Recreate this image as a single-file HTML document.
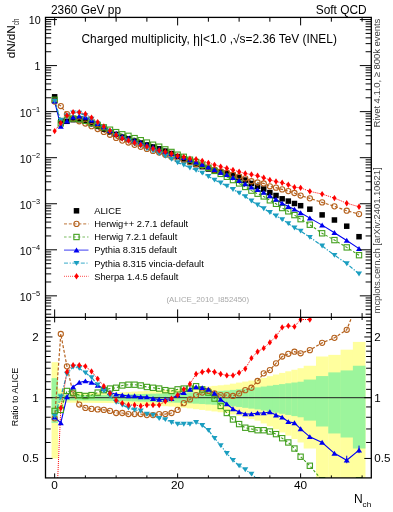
<!DOCTYPE html><html><head><meta charset="utf-8"><style>html,body{margin:0;padding:0;background:#fff;overflow:hidden;width:393px;height:512px;}svg{display:block;will-change:transform;} text{font-family:"Liberation Sans",sans-serif;}</style></head><body>
<svg width="393" height="512" viewBox="0 0 393 512">
<rect width="393" height="512" fill="#fff"/>
<defs><clipPath id="cr"><rect x="45.5" y="317.4" width="325.8" height="160.5"/></clipPath>
<clipPath id="ct"><rect x="45.5" y="17.4" width="325.8" height="300"/></clipPath></defs>
<g clip-path="url(#cr)">
<rect x="51.58" y="362.17" width="6.45" height="96.28" fill="#ffff9e"/>
<rect x="57.72" y="388.56" width="6.45" height="19.36" fill="#ffff9e"/>
<rect x="63.87" y="393.01" width="6.45" height="9.65" fill="#ffff9e"/>
<rect x="70.02" y="392.96" width="6.45" height="9.76" fill="#ffff9e"/>
<rect x="76.17" y="392.91" width="6.45" height="9.87" fill="#ffff9e"/>
<rect x="82.32" y="392.86" width="6.45" height="9.98" fill="#ffff9e"/>
<rect x="88.47" y="392.8" width="6.45" height="10.09" fill="#ffff9e"/>
<rect x="94.62" y="392.75" width="6.45" height="10.2" fill="#ffff9e"/>
<rect x="100.77" y="392.7" width="6.45" height="10.31" fill="#ffff9e"/>
<rect x="106.92" y="392.65" width="6.45" height="10.42" fill="#ffff9e"/>
<rect x="113.07" y="392.6" width="6.45" height="10.53" fill="#ffff9e"/>
<rect x="119.21" y="392.27" width="6.45" height="11.23" fill="#ffff9e"/>
<rect x="125.36" y="391.94" width="6.45" height="11.94" fill="#ffff9e"/>
<rect x="131.51" y="391.61" width="6.45" height="12.64" fill="#ffff9e"/>
<rect x="137.66" y="391.28" width="6.45" height="13.35" fill="#ffff9e"/>
<rect x="143.81" y="390.96" width="6.45" height="14.05" fill="#ffff9e"/>
<rect x="149.96" y="390.64" width="6.45" height="14.76" fill="#ffff9e"/>
<rect x="156.11" y="390.31" width="6.45" height="15.46" fill="#ffff9e"/>
<rect x="162.26" y="389.99" width="6.45" height="16.17" fill="#ffff9e"/>
<rect x="168.41" y="389.67" width="6.45" height="16.88" fill="#ffff9e"/>
<rect x="174.56" y="389.35" width="6.45" height="17.59" fill="#ffff9e"/>
<rect x="180.7" y="388.76" width="6.45" height="18.92" fill="#ffff9e"/>
<rect x="186.85" y="388.16" width="6.45" height="20.25" fill="#ffff9e"/>
<rect x="193" y="387.58" width="6.45" height="21.58" fill="#ffff9e"/>
<rect x="199.15" y="386.99" width="6.45" height="22.92" fill="#ffff9e"/>
<rect x="205.3" y="386.41" width="6.45" height="24.25" fill="#ffff9e"/>
<rect x="211.45" y="385.84" width="6.45" height="25.6" fill="#ffff9e"/>
<rect x="217.6" y="385.27" width="6.45" height="26.94" fill="#ffff9e"/>
<rect x="223.75" y="384.7" width="6.45" height="28.29" fill="#ffff9e"/>
<rect x="229.9" y="383.65" width="6.45" height="30.81" fill="#ffff9e"/>
<rect x="236.05" y="382.61" width="6.45" height="33.35" fill="#ffff9e"/>
<rect x="242.19" y="381.58" width="6.45" height="35.9" fill="#ffff9e"/>
<rect x="248.34" y="380.56" width="6.45" height="38.47" fill="#ffff9e"/>
<rect x="254.49" y="379.56" width="6.45" height="41.05" fill="#ffff9e"/>
<rect x="260.64" y="377.85" width="6.45" height="45.57" fill="#ffff9e"/>
<rect x="266.79" y="376.17" width="6.45" height="50.15" fill="#ffff9e"/>
<rect x="272.94" y="374.52" width="6.45" height="54.8" fill="#ffff9e"/>
<rect x="279.09" y="372.9" width="6.45" height="59.53" fill="#ffff9e"/>
<rect x="285.24" y="371.31" width="6.45" height="64.34" fill="#ffff9e"/>
<rect x="291.39" y="369.75" width="6.45" height="69.25" fill="#ffff9e"/>
<rect x="297.54" y="368.22" width="6.45" height="74.26" fill="#ffff9e"/>
<rect x="303.68" y="365.75" width="12.6" height="82.77" fill="#ffff9e"/>
<rect x="315.98" y="356.51" width="12.6" height="121.5" fill="#ffff9e"/>
<rect x="328.28" y="354.88" width="12.6" height="129.96" fill="#ffff9e"/>
<rect x="340.58" y="349.67" width="12.6" height="153.55" fill="#ffff9e"/>
<rect x="352.88" y="341.91" width="12.6" height="161.31" fill="#ffff9e"/>
<rect x="51.58" y="378.15" width="6.45" height="44.77" fill="#9cf59c"/>
<rect x="57.72" y="393.43" width="6.45" height="8.77" fill="#9cf59c"/>
<rect x="63.87" y="395.11" width="6.45" height="5.26" fill="#9cf59c"/>
<rect x="70.02" y="395.06" width="6.45" height="5.37" fill="#9cf59c"/>
<rect x="76.17" y="395.01" width="6.45" height="5.48" fill="#9cf59c"/>
<rect x="82.32" y="394.95" width="6.45" height="5.59" fill="#9cf59c"/>
<rect x="88.47" y="394.9" width="6.45" height="5.7" fill="#9cf59c"/>
<rect x="94.62" y="394.85" width="6.45" height="5.81" fill="#9cf59c"/>
<rect x="100.77" y="394.8" width="6.45" height="5.92" fill="#9cf59c"/>
<rect x="106.92" y="394.74" width="6.45" height="6.03" fill="#9cf59c"/>
<rect x="113.07" y="394.69" width="6.45" height="6.14" fill="#9cf59c"/>
<rect x="119.21" y="394.52" width="6.45" height="6.49" fill="#9cf59c"/>
<rect x="125.36" y="394.35" width="6.45" height="6.84" fill="#9cf59c"/>
<rect x="131.51" y="394.18" width="6.45" height="7.19" fill="#9cf59c"/>
<rect x="137.66" y="394.01" width="6.45" height="7.54" fill="#9cf59c"/>
<rect x="143.81" y="393.85" width="6.45" height="7.89" fill="#9cf59c"/>
<rect x="149.96" y="393.68" width="6.45" height="8.24" fill="#9cf59c"/>
<rect x="156.11" y="393.51" width="6.45" height="8.6" fill="#9cf59c"/>
<rect x="162.26" y="393.34" width="6.45" height="8.95" fill="#9cf59c"/>
<rect x="168.41" y="393.18" width="6.45" height="9.3" fill="#9cf59c"/>
<rect x="174.56" y="393.01" width="6.45" height="9.65" fill="#9cf59c"/>
<rect x="180.7" y="392.7" width="6.45" height="10.31" fill="#9cf59c"/>
<rect x="186.85" y="392.39" width="6.45" height="10.97" fill="#9cf59c"/>
<rect x="193" y="392.08" width="6.45" height="11.63" fill="#9cf59c"/>
<rect x="199.15" y="391.77" width="6.45" height="12.29" fill="#9cf59c"/>
<rect x="205.3" y="391.47" width="6.45" height="12.95" fill="#9cf59c"/>
<rect x="211.45" y="391.16" width="6.45" height="13.61" fill="#9cf59c"/>
<rect x="217.6" y="390.86" width="6.45" height="14.27" fill="#9cf59c"/>
<rect x="223.75" y="390.55" width="6.45" height="14.93" fill="#9cf59c"/>
<rect x="229.9" y="389.91" width="6.45" height="16.35" fill="#9cf59c"/>
<rect x="236.05" y="389.27" width="6.45" height="17.76" fill="#9cf59c"/>
<rect x="242.19" y="388.64" width="6.45" height="19.18" fill="#9cf59c"/>
<rect x="248.34" y="388.01" width="6.45" height="20.6" fill="#9cf59c"/>
<rect x="254.49" y="387.38" width="6.45" height="22.03" fill="#9cf59c"/>
<rect x="260.64" y="386.55" width="6.45" height="23.94" fill="#9cf59c"/>
<rect x="266.79" y="385.73" width="6.45" height="25.85" fill="#9cf59c"/>
<rect x="272.94" y="384.91" width="6.45" height="27.77" fill="#9cf59c"/>
<rect x="279.09" y="384.11" width="6.45" height="29.7" fill="#9cf59c"/>
<rect x="285.24" y="383.3" width="6.45" height="31.64" fill="#9cf59c"/>
<rect x="291.39" y="382.51" width="6.45" height="33.58" fill="#9cf59c"/>
<rect x="297.54" y="381.73" width="6.45" height="35.54" fill="#9cf59c"/>
<rect x="303.68" y="379.56" width="12.6" height="41.05" fill="#9cf59c"/>
<rect x="315.98" y="376.07" width="12.6" height="50.43" fill="#9cf59c"/>
<rect x="328.28" y="372.38" width="12.6" height="61.08" fill="#9cf59c"/>
<rect x="340.58" y="370.43" width="12.6" height="67.07" fill="#9cf59c"/>
<rect x="352.88" y="365.75" width="12.6" height="82.77" fill="#9cf59c"/>
<line x1="45.5" y1="397.7" x2="371.3" y2="397.7" stroke="#222" stroke-width="1"/>
</g>
<g clip-path="url(#ct)">
<polyline points="54.65,101.51 60.8,106.05 66.95,114.15 73.1,118.72 79.25,121.26 85.39,123.53 91.54,126.16 97.69,129.07 103.84,131.89 109.99,134.82 116.14,137.89 122.29,140.59 128.44,142.53 134.59,144.83 140.74,146.73 146.88,148.97 153.03,150.97 159.18,152.53 165.33,154.83 171.48,156.99 177.63,159.39 183.78,160.14 189.93,162.2 196.08,164.01 202.23,165.53 208.38,167.46 214.52,169.72 220.67,171.41 226.82,172.71 232.97,174.7 239.12,176.42 245.27,178.38 251.42,181.23 257.57,182.49 263.72,183.45 269.87,186.3 276.01,187.66 282.16,189.4 288.31,191.08 294.46,193.01 300.61,195.56 309.83,198.35 322.13,202.38 334.43,206.34 346.73,210.71 359.03,214.07" fill="none" stroke="#b5621e" stroke-width="1.2" stroke-dasharray="3,1.8"/>
<polyline points="54.65,99.82 60.8,123.39 66.95,119.76 73.1,118.53 79.25,119.11 85.39,120.8 91.54,123.01 97.69,125.23 103.84,127.38 109.99,129.71 116.14,132.13 122.29,134.3 128.44,135.83 134.59,138.13 140.74,140.2 146.88,142.56 153.03,144.73 159.18,146.71 165.33,149.38 171.48,151.96 177.63,154.69 183.78,156.81 189.93,159.71 196.08,161.98 202.23,164.79 208.38,167.83 214.52,170.9 220.67,173.89 226.82,176.79 232.97,180.07 239.12,183.42 245.27,186.95 251.42,190.63 257.57,193.72 263.72,196.42 269.87,200.31 276.01,203.81 282.16,208.04 288.31,211.32 294.46,215.1 300.61,219.17 309.83,224.73 322.13,233.3 334.43,240.1 346.73,247.4 359.03,255.2" fill="none" stroke="#43a01f" stroke-width="1.1" stroke-dasharray="2.6,2"/>
<polyline points="54.65,101.26 60.8,126.35 66.95,121.1 73.1,117.26 79.25,116.22 85.39,117.39 91.54,120.12 97.69,123.6 103.84,127.01 109.99,130.63 116.14,133.62 122.29,136.51 128.44,138.4 134.59,140.7 140.74,142.8 146.88,144.8 153.03,147.2 159.18,149.2 165.33,151.5 171.48,153.7 177.63,156.01 183.78,157.73 189.93,159.89 196.08,162.16 202.23,164.43 208.38,167.09 214.52,169.72 220.67,172.4 226.82,174.75 232.97,177.66 239.12,180.65 245.27,183.83 251.42,187.23 257.57,189.79 263.72,192.49 269.87,195.85 276.01,199.47 282.16,203.26 288.31,206.59 294.46,209.25 300.61,212.83 309.83,218.13 322.13,225.12 334.43,232.7 346.73,240.47 359.03,248.66" fill="none" stroke="#0000f0" stroke-width="1.1"/>
<polyline points="54.65,101.01 60.8,120.4 66.95,115.9 73.1,112.69 79.25,112.97 85.39,115.5 91.54,118.98 97.69,123.43 103.84,127.56 109.99,131.4 116.14,135.43 122.29,138.77 128.44,141.13 134.59,143.89 140.74,146.02 146.88,148.73 153.03,150.97 159.18,153.51 165.33,156.07 171.48,159.12 177.63,162.62 183.78,164.92 189.93,167.82 196.08,170.22 202.23,172.99 208.38,176.42 214.52,179.94 220.67,182.89 226.82,186 232.97,189.37 239.12,192.93 245.27,196.52 251.42,200.9 257.57,204.9 263.72,208.6 269.87,212.4 276.01,215.8 282.16,219.5 288.31,223.5 294.46,227.9 300.61,231 309.83,237.2 322.13,245.9 334.43,255.2 346.73,263.6 359.03,273.9" fill="none" stroke="#1b9ec0" stroke-width="1.2" stroke-dasharray="4,1.6,1.2,1.6"/>
<polyline points="54.65,131.09 60.8,122.98 66.95,115.42 73.1,112.27 79.25,112.27 85.39,114.05 91.54,117.6 97.69,122.1 103.84,126.48 109.99,130.82 116.14,135.01 122.29,138.34 128.44,140.47 134.59,142.77 140.74,144.89 146.88,146.67 153.03,148.67 159.18,150.47 165.33,151.92 171.48,153.7 177.63,156.01 183.78,156.99 189.93,158.66 196.08,159.2 202.23,160.85 208.38,162.85 214.52,164.85 220.67,166.6 226.82,168.21 232.97,170.01 239.12,171.7 245.27,173.51 251.42,174.48 257.57,175.81 263.72,177.69 269.87,179.98 276.01,181.54 282.16,182.76 288.31,184.71 294.46,187.28 300.61,187.86 309.83,191.36 322.13,194.1 334.43,198.1 346.73,203.2 359.03,206.8" fill="none" stroke="#ff0000" stroke-width="1.0" stroke-dasharray="1,1"/>
<rect x="51.9" y="94.05" width="5.5" height="5.5" fill="#000"/>
<rect x="58.05" y="117.85" width="5.5" height="5.5" fill="#000"/>
<rect x="64.2" y="118.55" width="5.5" height="5.5" fill="#000"/>
<rect x="70.35" y="116.95" width="5.5" height="5.5" fill="#000"/>
<rect x="76.5" y="116.95" width="5.5" height="5.5" fill="#000"/>
<rect x="82.64" y="118.45" width="5.5" height="5.5" fill="#000"/>
<rect x="88.79" y="120.85" width="5.5" height="5.5" fill="#000"/>
<rect x="94.94" y="123.65" width="5.5" height="5.5" fill="#000"/>
<rect x="101.09" y="126.35" width="5.5" height="5.5" fill="#000"/>
<rect x="107.24" y="129.05" width="5.5" height="5.5" fill="#000"/>
<rect x="113.39" y="131.65" width="5.5" height="5.5" fill="#000"/>
<rect x="119.54" y="134.35" width="5.5" height="5.5" fill="#000"/>
<rect x="125.69" y="136.05" width="5.5" height="5.5" fill="#000"/>
<rect x="131.84" y="138.35" width="5.5" height="5.5" fill="#000"/>
<rect x="137.99" y="140.25" width="5.5" height="5.5" fill="#000"/>
<rect x="144.13" y="142.25" width="5.5" height="5.5" fill="#000"/>
<rect x="150.28" y="144.25" width="5.5" height="5.5" fill="#000"/>
<rect x="156.43" y="146.05" width="5.5" height="5.5" fill="#000"/>
<rect x="162.58" y="148.35" width="5.5" height="5.5" fill="#000"/>
<rect x="168.73" y="150.75" width="5.5" height="5.5" fill="#000"/>
<rect x="174.88" y="153.85" width="5.5" height="5.5" fill="#000"/>
<rect x="181.03" y="156.15" width="5.5" height="5.5" fill="#000"/>
<rect x="187.18" y="159.05" width="5.5" height="5.5" fill="#000"/>
<rect x="193.33" y="161.85" width="5.5" height="5.5" fill="#000"/>
<rect x="199.48" y="163.95" width="5.5" height="5.5" fill="#000"/>
<rect x="205.62" y="166.25" width="5.5" height="5.5" fill="#000"/>
<rect x="211.77" y="167.95" width="5.5" height="5.5" fill="#000"/>
<rect x="217.92" y="169.25" width="5.5" height="5.5" fill="#000"/>
<rect x="224.07" y="170.55" width="5.5" height="5.5" fill="#000"/>
<rect x="230.22" y="172.35" width="5.5" height="5.5" fill="#000"/>
<rect x="236.37" y="174.65" width="5.5" height="5.5" fill="#000"/>
<rect x="242.52" y="177.35" width="5.5" height="5.5" fill="#000"/>
<rect x="248.67" y="180.75" width="5.5" height="5.5" fill="#000"/>
<rect x="254.82" y="183.55" width="5.5" height="5.5" fill="#000"/>
<rect x="260.97" y="186.25" width="5.5" height="5.5" fill="#000"/>
<rect x="267.12" y="189.85" width="5.5" height="5.5" fill="#000"/>
<rect x="273.26" y="192.75" width="5.5" height="5.5" fill="#000"/>
<rect x="279.41" y="196.05" width="5.5" height="5.5" fill="#000"/>
<rect x="285.56" y="198.35" width="5.5" height="5.5" fill="#000"/>
<rect x="291.71" y="200.75" width="5.5" height="5.5" fill="#000"/>
<rect x="297.86" y="202.95" width="5.5" height="5.5" fill="#000"/>
<rect x="307.08" y="206.45" width="5.5" height="5.5" fill="#000"/>
<rect x="319.38" y="212.15" width="5.5" height="5.5" fill="#000"/>
<rect x="331.68" y="217.25" width="5.5" height="5.5" fill="#000"/>
<rect x="343.98" y="223.45" width="5.5" height="5.5" fill="#000"/>
<rect x="356.28" y="233.95" width="5.5" height="5.5" fill="#000"/>
<circle cx="54.65" cy="101.51" r="2.6" fill="none" stroke="#b5621e" stroke-width="1.1"/>
<circle cx="60.8" cy="106.05" r="2.6" fill="none" stroke="#b5621e" stroke-width="1.1"/>
<circle cx="66.95" cy="114.15" r="2.6" fill="none" stroke="#b5621e" stroke-width="1.1"/>
<circle cx="73.1" cy="118.72" r="2.6" fill="none" stroke="#b5621e" stroke-width="1.1"/>
<circle cx="79.25" cy="121.26" r="2.6" fill="none" stroke="#b5621e" stroke-width="1.1"/>
<circle cx="85.39" cy="123.53" r="2.6" fill="none" stroke="#b5621e" stroke-width="1.1"/>
<circle cx="91.54" cy="126.16" r="2.6" fill="none" stroke="#b5621e" stroke-width="1.1"/>
<circle cx="97.69" cy="129.07" r="2.6" fill="none" stroke="#b5621e" stroke-width="1.1"/>
<circle cx="103.84" cy="131.89" r="2.6" fill="none" stroke="#b5621e" stroke-width="1.1"/>
<circle cx="109.99" cy="134.82" r="2.6" fill="none" stroke="#b5621e" stroke-width="1.1"/>
<circle cx="116.14" cy="137.89" r="2.6" fill="none" stroke="#b5621e" stroke-width="1.1"/>
<circle cx="122.29" cy="140.59" r="2.6" fill="none" stroke="#b5621e" stroke-width="1.1"/>
<circle cx="128.44" cy="142.53" r="2.6" fill="none" stroke="#b5621e" stroke-width="1.1"/>
<circle cx="134.59" cy="144.83" r="2.6" fill="none" stroke="#b5621e" stroke-width="1.1"/>
<circle cx="140.74" cy="146.73" r="2.6" fill="none" stroke="#b5621e" stroke-width="1.1"/>
<circle cx="146.88" cy="148.97" r="2.6" fill="none" stroke="#b5621e" stroke-width="1.1"/>
<circle cx="153.03" cy="150.97" r="2.6" fill="none" stroke="#b5621e" stroke-width="1.1"/>
<circle cx="159.18" cy="152.53" r="2.6" fill="none" stroke="#b5621e" stroke-width="1.1"/>
<circle cx="165.33" cy="154.83" r="2.6" fill="none" stroke="#b5621e" stroke-width="1.1"/>
<circle cx="171.48" cy="156.99" r="2.6" fill="none" stroke="#b5621e" stroke-width="1.1"/>
<circle cx="177.63" cy="159.39" r="2.6" fill="none" stroke="#b5621e" stroke-width="1.1"/>
<circle cx="183.78" cy="160.14" r="2.6" fill="none" stroke="#b5621e" stroke-width="1.1"/>
<circle cx="189.93" cy="162.2" r="2.6" fill="none" stroke="#b5621e" stroke-width="1.1"/>
<circle cx="196.08" cy="164.01" r="2.6" fill="none" stroke="#b5621e" stroke-width="1.1"/>
<circle cx="202.23" cy="165.53" r="2.6" fill="none" stroke="#b5621e" stroke-width="1.1"/>
<circle cx="208.38" cy="167.46" r="2.6" fill="none" stroke="#b5621e" stroke-width="1.1"/>
<circle cx="214.52" cy="169.72" r="2.6" fill="none" stroke="#b5621e" stroke-width="1.1"/>
<circle cx="220.67" cy="171.41" r="2.6" fill="none" stroke="#b5621e" stroke-width="1.1"/>
<circle cx="226.82" cy="172.71" r="2.6" fill="none" stroke="#b5621e" stroke-width="1.1"/>
<circle cx="232.97" cy="174.7" r="2.6" fill="none" stroke="#b5621e" stroke-width="1.1"/>
<circle cx="239.12" cy="176.42" r="2.6" fill="none" stroke="#b5621e" stroke-width="1.1"/>
<circle cx="245.27" cy="178.38" r="2.6" fill="none" stroke="#b5621e" stroke-width="1.1"/>
<circle cx="251.42" cy="181.23" r="2.6" fill="none" stroke="#b5621e" stroke-width="1.1"/>
<circle cx="257.57" cy="182.49" r="2.6" fill="none" stroke="#b5621e" stroke-width="1.1"/>
<circle cx="263.72" cy="183.45" r="2.6" fill="none" stroke="#b5621e" stroke-width="1.1"/>
<circle cx="269.87" cy="186.3" r="2.6" fill="none" stroke="#b5621e" stroke-width="1.1"/>
<circle cx="276.01" cy="187.66" r="2.6" fill="none" stroke="#b5621e" stroke-width="1.1"/>
<circle cx="282.16" cy="189.4" r="2.6" fill="none" stroke="#b5621e" stroke-width="1.1"/>
<circle cx="288.31" cy="191.08" r="2.6" fill="none" stroke="#b5621e" stroke-width="1.1"/>
<circle cx="294.46" cy="193.01" r="2.6" fill="none" stroke="#b5621e" stroke-width="1.1"/>
<circle cx="300.61" cy="195.56" r="2.6" fill="none" stroke="#b5621e" stroke-width="1.1"/>
<circle cx="309.83" cy="198.35" r="2.6" fill="none" stroke="#b5621e" stroke-width="1.1"/>
<circle cx="322.13" cy="202.38" r="2.6" fill="none" stroke="#b5621e" stroke-width="1.1"/>
<circle cx="334.43" cy="206.34" r="2.6" fill="none" stroke="#b5621e" stroke-width="1.1"/>
<circle cx="346.73" cy="210.71" r="2.6" fill="none" stroke="#b5621e" stroke-width="1.1"/>
<circle cx="359.03" cy="214.07" r="2.6" fill="none" stroke="#b5621e" stroke-width="1.1"/>
<rect x="52" y="97.17" width="5.3" height="5.3" fill="none" stroke="#43a01f" stroke-width="1.1"/>
<rect x="58.15" y="120.74" width="5.3" height="5.3" fill="none" stroke="#43a01f" stroke-width="1.1"/>
<rect x="64.3" y="117.11" width="5.3" height="5.3" fill="none" stroke="#43a01f" stroke-width="1.1"/>
<rect x="70.45" y="115.88" width="5.3" height="5.3" fill="none" stroke="#43a01f" stroke-width="1.1"/>
<rect x="76.6" y="116.46" width="5.3" height="5.3" fill="none" stroke="#43a01f" stroke-width="1.1"/>
<rect x="82.74" y="118.15" width="5.3" height="5.3" fill="none" stroke="#43a01f" stroke-width="1.1"/>
<rect x="88.89" y="120.36" width="5.3" height="5.3" fill="none" stroke="#43a01f" stroke-width="1.1"/>
<rect x="95.04" y="122.58" width="5.3" height="5.3" fill="none" stroke="#43a01f" stroke-width="1.1"/>
<rect x="101.19" y="124.73" width="5.3" height="5.3" fill="none" stroke="#43a01f" stroke-width="1.1"/>
<rect x="107.34" y="127.06" width="5.3" height="5.3" fill="none" stroke="#43a01f" stroke-width="1.1"/>
<rect x="113.49" y="129.48" width="5.3" height="5.3" fill="none" stroke="#43a01f" stroke-width="1.1"/>
<rect x="119.64" y="131.65" width="5.3" height="5.3" fill="none" stroke="#43a01f" stroke-width="1.1"/>
<rect x="125.79" y="133.18" width="5.3" height="5.3" fill="none" stroke="#43a01f" stroke-width="1.1"/>
<rect x="131.94" y="135.48" width="5.3" height="5.3" fill="none" stroke="#43a01f" stroke-width="1.1"/>
<rect x="138.09" y="137.55" width="5.3" height="5.3" fill="none" stroke="#43a01f" stroke-width="1.1"/>
<rect x="144.23" y="139.91" width="5.3" height="5.3" fill="none" stroke="#43a01f" stroke-width="1.1"/>
<rect x="150.38" y="142.08" width="5.3" height="5.3" fill="none" stroke="#43a01f" stroke-width="1.1"/>
<rect x="156.53" y="144.06" width="5.3" height="5.3" fill="none" stroke="#43a01f" stroke-width="1.1"/>
<rect x="162.68" y="146.73" width="5.3" height="5.3" fill="none" stroke="#43a01f" stroke-width="1.1"/>
<rect x="168.83" y="149.31" width="5.3" height="5.3" fill="none" stroke="#43a01f" stroke-width="1.1"/>
<rect x="174.98" y="152.04" width="5.3" height="5.3" fill="none" stroke="#43a01f" stroke-width="1.1"/>
<rect x="181.13" y="154.16" width="5.3" height="5.3" fill="none" stroke="#43a01f" stroke-width="1.1"/>
<rect x="187.28" y="157.06" width="5.3" height="5.3" fill="none" stroke="#43a01f" stroke-width="1.1"/>
<rect x="193.43" y="159.33" width="5.3" height="5.3" fill="none" stroke="#43a01f" stroke-width="1.1"/>
<rect x="199.58" y="162.14" width="5.3" height="5.3" fill="none" stroke="#43a01f" stroke-width="1.1"/>
<rect x="205.72" y="165.18" width="5.3" height="5.3" fill="none" stroke="#43a01f" stroke-width="1.1"/>
<rect x="211.87" y="168.25" width="5.3" height="5.3" fill="none" stroke="#43a01f" stroke-width="1.1"/>
<rect x="218.02" y="171.24" width="5.3" height="5.3" fill="none" stroke="#43a01f" stroke-width="1.1"/>
<rect x="224.17" y="174.14" width="5.3" height="5.3" fill="none" stroke="#43a01f" stroke-width="1.1"/>
<rect x="230.32" y="177.42" width="5.3" height="5.3" fill="none" stroke="#43a01f" stroke-width="1.1"/>
<rect x="236.47" y="180.77" width="5.3" height="5.3" fill="none" stroke="#43a01f" stroke-width="1.1"/>
<rect x="242.62" y="184.3" width="5.3" height="5.3" fill="none" stroke="#43a01f" stroke-width="1.1"/>
<rect x="248.77" y="187.98" width="5.3" height="5.3" fill="none" stroke="#43a01f" stroke-width="1.1"/>
<rect x="254.92" y="191.07" width="5.3" height="5.3" fill="none" stroke="#43a01f" stroke-width="1.1"/>
<rect x="261.07" y="193.77" width="5.3" height="5.3" fill="none" stroke="#43a01f" stroke-width="1.1"/>
<rect x="267.22" y="197.66" width="5.3" height="5.3" fill="none" stroke="#43a01f" stroke-width="1.1"/>
<rect x="273.36" y="201.16" width="5.3" height="5.3" fill="none" stroke="#43a01f" stroke-width="1.1"/>
<rect x="279.51" y="205.39" width="5.3" height="5.3" fill="none" stroke="#43a01f" stroke-width="1.1"/>
<rect x="285.66" y="208.67" width="5.3" height="5.3" fill="none" stroke="#43a01f" stroke-width="1.1"/>
<rect x="291.81" y="212.45" width="5.3" height="5.3" fill="none" stroke="#43a01f" stroke-width="1.1"/>
<rect x="297.96" y="216.52" width="5.3" height="5.3" fill="none" stroke="#43a01f" stroke-width="1.1"/>
<rect x="307.18" y="222.08" width="5.3" height="5.3" fill="none" stroke="#43a01f" stroke-width="1.1"/>
<rect x="319.48" y="230.65" width="5.3" height="5.3" fill="none" stroke="#43a01f" stroke-width="1.1"/>
<rect x="331.78" y="237.45" width="5.3" height="5.3" fill="none" stroke="#43a01f" stroke-width="1.1"/>
<rect x="344.08" y="244.75" width="5.3" height="5.3" fill="none" stroke="#43a01f" stroke-width="1.1"/>
<rect x="356.38" y="252.55" width="5.3" height="5.3" fill="none" stroke="#43a01f" stroke-width="1.1"/>
<path d="M54.65 98.66l3 4.9h-6z" fill="#0000f0"/>
<path d="M60.8 123.75l3 4.9h-6z" fill="#0000f0"/>
<path d="M66.95 118.5l3 4.9h-6z" fill="#0000f0"/>
<path d="M73.1 114.66l3 4.9h-6z" fill="#0000f0"/>
<path d="M79.25 113.62l3 4.9h-6z" fill="#0000f0"/>
<path d="M85.39 114.79l3 4.9h-6z" fill="#0000f0"/>
<path d="M91.54 117.52l3 4.9h-6z" fill="#0000f0"/>
<path d="M97.69 121l3 4.9h-6z" fill="#0000f0"/>
<path d="M103.84 124.41l3 4.9h-6z" fill="#0000f0"/>
<path d="M109.99 128.03l3 4.9h-6z" fill="#0000f0"/>
<path d="M116.14 131.02l3 4.9h-6z" fill="#0000f0"/>
<path d="M122.29 133.91l3 4.9h-6z" fill="#0000f0"/>
<path d="M128.44 135.8l3 4.9h-6z" fill="#0000f0"/>
<path d="M134.59 138.1l3 4.9h-6z" fill="#0000f0"/>
<path d="M140.74 140.2l3 4.9h-6z" fill="#0000f0"/>
<path d="M146.88 142.2l3 4.9h-6z" fill="#0000f0"/>
<path d="M153.03 144.6l3 4.9h-6z" fill="#0000f0"/>
<path d="M159.18 146.6l3 4.9h-6z" fill="#0000f0"/>
<path d="M165.33 148.9l3 4.9h-6z" fill="#0000f0"/>
<path d="M171.48 151.1l3 4.9h-6z" fill="#0000f0"/>
<path d="M177.63 153.41l3 4.9h-6z" fill="#0000f0"/>
<path d="M183.78 155.13l3 4.9h-6z" fill="#0000f0"/>
<path d="M189.93 157.29l3 4.9h-6z" fill="#0000f0"/>
<path d="M196.08 159.56l3 4.9h-6z" fill="#0000f0"/>
<path d="M202.23 161.83l3 4.9h-6z" fill="#0000f0"/>
<path d="M208.38 164.49l3 4.9h-6z" fill="#0000f0"/>
<path d="M214.52 167.12l3 4.9h-6z" fill="#0000f0"/>
<path d="M220.67 169.8l3 4.9h-6z" fill="#0000f0"/>
<path d="M226.82 172.15l3 4.9h-6z" fill="#0000f0"/>
<path d="M232.97 175.06l3 4.9h-6z" fill="#0000f0"/>
<path d="M239.12 178.05l3 4.9h-6z" fill="#0000f0"/>
<path d="M245.27 181.23l3 4.9h-6z" fill="#0000f0"/>
<path d="M251.42 184.63l3 4.9h-6z" fill="#0000f0"/>
<path d="M257.57 187.19l3 4.9h-6z" fill="#0000f0"/>
<path d="M263.72 189.89l3 4.9h-6z" fill="#0000f0"/>
<path d="M269.87 193.25l3 4.9h-6z" fill="#0000f0"/>
<path d="M276.01 196.87l3 4.9h-6z" fill="#0000f0"/>
<path d="M282.16 200.66l3 4.9h-6z" fill="#0000f0"/>
<path d="M288.31 203.99l3 4.9h-6z" fill="#0000f0"/>
<path d="M294.46 206.65l3 4.9h-6z" fill="#0000f0"/>
<path d="M300.61 210.23l3 4.9h-6z" fill="#0000f0"/>
<path d="M309.83 215.53l3 4.9h-6z" fill="#0000f0"/>
<path d="M322.13 222.52l3 4.9h-6z" fill="#0000f0"/>
<path d="M334.43 230.1l3 4.9h-6z" fill="#0000f0"/>
<path d="M346.73 237.87l3 4.9h-6z" fill="#0000f0"/>
<path d="M359.03 246.06l3 4.9h-6z" fill="#0000f0"/>
<path d="M54.65 103.61l3 -4.9h-6z" fill="#1b9ec0"/>
<path d="M60.8 123l3 -4.9h-6z" fill="#1b9ec0"/>
<path d="M66.95 118.5l3 -4.9h-6z" fill="#1b9ec0"/>
<path d="M73.1 115.29l3 -4.9h-6z" fill="#1b9ec0"/>
<path d="M79.25 115.57l3 -4.9h-6z" fill="#1b9ec0"/>
<path d="M85.39 118.1l3 -4.9h-6z" fill="#1b9ec0"/>
<path d="M91.54 121.58l3 -4.9h-6z" fill="#1b9ec0"/>
<path d="M97.69 126.03l3 -4.9h-6z" fill="#1b9ec0"/>
<path d="M103.84 130.16l3 -4.9h-6z" fill="#1b9ec0"/>
<path d="M109.99 134l3 -4.9h-6z" fill="#1b9ec0"/>
<path d="M116.14 138.03l3 -4.9h-6z" fill="#1b9ec0"/>
<path d="M122.29 141.37l3 -4.9h-6z" fill="#1b9ec0"/>
<path d="M128.44 143.73l3 -4.9h-6z" fill="#1b9ec0"/>
<path d="M134.59 146.49l3 -4.9h-6z" fill="#1b9ec0"/>
<path d="M140.74 148.62l3 -4.9h-6z" fill="#1b9ec0"/>
<path d="M146.88 151.33l3 -4.9h-6z" fill="#1b9ec0"/>
<path d="M153.03 153.57l3 -4.9h-6z" fill="#1b9ec0"/>
<path d="M159.18 156.11l3 -4.9h-6z" fill="#1b9ec0"/>
<path d="M165.33 158.67l3 -4.9h-6z" fill="#1b9ec0"/>
<path d="M171.48 161.72l3 -4.9h-6z" fill="#1b9ec0"/>
<path d="M177.63 165.22l3 -4.9h-6z" fill="#1b9ec0"/>
<path d="M183.78 167.52l3 -4.9h-6z" fill="#1b9ec0"/>
<path d="M189.93 170.42l3 -4.9h-6z" fill="#1b9ec0"/>
<path d="M196.08 172.82l3 -4.9h-6z" fill="#1b9ec0"/>
<path d="M202.23 175.59l3 -4.9h-6z" fill="#1b9ec0"/>
<path d="M208.38 179.02l3 -4.9h-6z" fill="#1b9ec0"/>
<path d="M214.52 182.54l3 -4.9h-6z" fill="#1b9ec0"/>
<path d="M220.67 185.49l3 -4.9h-6z" fill="#1b9ec0"/>
<path d="M226.82 188.6l3 -4.9h-6z" fill="#1b9ec0"/>
<path d="M232.97 191.97l3 -4.9h-6z" fill="#1b9ec0"/>
<path d="M239.12 195.53l3 -4.9h-6z" fill="#1b9ec0"/>
<path d="M245.27 199.12l3 -4.9h-6z" fill="#1b9ec0"/>
<path d="M251.42 203.5l3 -4.9h-6z" fill="#1b9ec0"/>
<path d="M257.57 207.5l3 -4.9h-6z" fill="#1b9ec0"/>
<path d="M263.72 211.2l3 -4.9h-6z" fill="#1b9ec0"/>
<path d="M269.87 215l3 -4.9h-6z" fill="#1b9ec0"/>
<path d="M276.01 218.4l3 -4.9h-6z" fill="#1b9ec0"/>
<path d="M282.16 222.1l3 -4.9h-6z" fill="#1b9ec0"/>
<path d="M288.31 226.1l3 -4.9h-6z" fill="#1b9ec0"/>
<path d="M294.46 230.5l3 -4.9h-6z" fill="#1b9ec0"/>
<path d="M300.61 233.6l3 -4.9h-6z" fill="#1b9ec0"/>
<path d="M309.83 239.8l3 -4.9h-6z" fill="#1b9ec0"/>
<path d="M322.13 248.5l3 -4.9h-6z" fill="#1b9ec0"/>
<path d="M334.43 257.8l3 -4.9h-6z" fill="#1b9ec0"/>
<path d="M346.73 266.2l3 -4.9h-6z" fill="#1b9ec0"/>
<path d="M359.03 276.5l3 -4.9h-6z" fill="#1b9ec0"/>
<path d="M54.65 127.89l2.1 3.2l-2.1 3.2l-2.1 -3.2z" fill="#ff0000"/>
<path d="M60.8 119.78l2.1 3.2l-2.1 3.2l-2.1 -3.2z" fill="#ff0000"/>
<path d="M66.95 112.22l2.1 3.2l-2.1 3.2l-2.1 -3.2z" fill="#ff0000"/>
<path d="M73.1 109.07l2.1 3.2l-2.1 3.2l-2.1 -3.2z" fill="#ff0000"/>
<path d="M79.25 109.07l2.1 3.2l-2.1 3.2l-2.1 -3.2z" fill="#ff0000"/>
<path d="M85.39 110.85l2.1 3.2l-2.1 3.2l-2.1 -3.2z" fill="#ff0000"/>
<path d="M91.54 114.4l2.1 3.2l-2.1 3.2l-2.1 -3.2z" fill="#ff0000"/>
<path d="M97.69 118.9l2.1 3.2l-2.1 3.2l-2.1 -3.2z" fill="#ff0000"/>
<path d="M103.84 123.28l2.1 3.2l-2.1 3.2l-2.1 -3.2z" fill="#ff0000"/>
<path d="M109.99 127.62l2.1 3.2l-2.1 3.2l-2.1 -3.2z" fill="#ff0000"/>
<path d="M116.14 131.81l2.1 3.2l-2.1 3.2l-2.1 -3.2z" fill="#ff0000"/>
<path d="M122.29 135.14l2.1 3.2l-2.1 3.2l-2.1 -3.2z" fill="#ff0000"/>
<path d="M128.44 137.27l2.1 3.2l-2.1 3.2l-2.1 -3.2z" fill="#ff0000"/>
<path d="M134.59 139.57l2.1 3.2l-2.1 3.2l-2.1 -3.2z" fill="#ff0000"/>
<path d="M140.74 141.69l2.1 3.2l-2.1 3.2l-2.1 -3.2z" fill="#ff0000"/>
<path d="M146.88 143.47l2.1 3.2l-2.1 3.2l-2.1 -3.2z" fill="#ff0000"/>
<path d="M153.03 145.47l2.1 3.2l-2.1 3.2l-2.1 -3.2z" fill="#ff0000"/>
<path d="M159.18 147.27l2.1 3.2l-2.1 3.2l-2.1 -3.2z" fill="#ff0000"/>
<path d="M165.33 148.72l2.1 3.2l-2.1 3.2l-2.1 -3.2z" fill="#ff0000"/>
<path d="M171.48 150.5l2.1 3.2l-2.1 3.2l-2.1 -3.2z" fill="#ff0000"/>
<path d="M177.63 152.81l2.1 3.2l-2.1 3.2l-2.1 -3.2z" fill="#ff0000"/>
<path d="M183.78 153.79l2.1 3.2l-2.1 3.2l-2.1 -3.2z" fill="#ff0000"/>
<path d="M189.93 155.46l2.1 3.2l-2.1 3.2l-2.1 -3.2z" fill="#ff0000"/>
<path d="M196.08 156l2.1 3.2l-2.1 3.2l-2.1 -3.2z" fill="#ff0000"/>
<path d="M202.23 157.65l2.1 3.2l-2.1 3.2l-2.1 -3.2z" fill="#ff0000"/>
<path d="M208.38 159.65l2.1 3.2l-2.1 3.2l-2.1 -3.2z" fill="#ff0000"/>
<path d="M214.52 161.65l2.1 3.2l-2.1 3.2l-2.1 -3.2z" fill="#ff0000"/>
<path d="M220.67 163.4l2.1 3.2l-2.1 3.2l-2.1 -3.2z" fill="#ff0000"/>
<path d="M226.82 165.01l2.1 3.2l-2.1 3.2l-2.1 -3.2z" fill="#ff0000"/>
<path d="M232.97 166.81l2.1 3.2l-2.1 3.2l-2.1 -3.2z" fill="#ff0000"/>
<path d="M239.12 168.5l2.1 3.2l-2.1 3.2l-2.1 -3.2z" fill="#ff0000"/>
<path d="M245.27 170.31l2.1 3.2l-2.1 3.2l-2.1 -3.2z" fill="#ff0000"/>
<path d="M251.42 171.28l2.1 3.2l-2.1 3.2l-2.1 -3.2z" fill="#ff0000"/>
<path d="M257.57 172.61l2.1 3.2l-2.1 3.2l-2.1 -3.2z" fill="#ff0000"/>
<path d="M263.72 174.49l2.1 3.2l-2.1 3.2l-2.1 -3.2z" fill="#ff0000"/>
<path d="M269.87 176.78l2.1 3.2l-2.1 3.2l-2.1 -3.2z" fill="#ff0000"/>
<path d="M276.01 178.34l2.1 3.2l-2.1 3.2l-2.1 -3.2z" fill="#ff0000"/>
<path d="M282.16 179.56l2.1 3.2l-2.1 3.2l-2.1 -3.2z" fill="#ff0000"/>
<path d="M288.31 181.51l2.1 3.2l-2.1 3.2l-2.1 -3.2z" fill="#ff0000"/>
<path d="M294.46 184.08l2.1 3.2l-2.1 3.2l-2.1 -3.2z" fill="#ff0000"/>
<path d="M300.61 184.66l2.1 3.2l-2.1 3.2l-2.1 -3.2z" fill="#ff0000"/>
<path d="M309.83 188.16l2.1 3.2l-2.1 3.2l-2.1 -3.2z" fill="#ff0000"/>
<path d="M322.13 190.9l2.1 3.2l-2.1 3.2l-2.1 -3.2z" fill="#ff0000"/>
<path d="M334.43 194.9l2.1 3.2l-2.1 3.2l-2.1 -3.2z" fill="#ff0000"/>
<path d="M346.73 200l2.1 3.2l-2.1 3.2l-2.1 -3.2z" fill="#ff0000"/>
<path d="M359.03 203.6l2.1 3.2l-2.1 3.2l-2.1 -3.2z" fill="#ff0000"/>
</g>
<g clip-path="url(#cr)">
<polyline points="54.65,418.36 60.8,333.94 66.95,366.36 73.1,393.43 79.25,404.54 85.39,407.92 91.54,408.91 97.69,409.41 103.84,409.91 109.99,410.92 116.14,412.98 122.29,412.98 128.44,414.03 134.59,414.03 140.74,414.03 146.88,415.1 153.03,415.1 159.18,414.03 165.33,414.03 171.48,412.98 177.63,409.91 183.78,403.13 189.93,399.47 196.08,395.11 202.23,392.6 208.38,390.96 214.52,393.43 220.67,395.11 226.82,395.11 232.97,395.97 239.12,393.43 245.27,390.15 251.42,387.77 257.57,381 263.72,373.37 269.87,370.11 276.01,363.35 282.16,356.51 288.31,353.82 294.46,351.72 300.61,353.29 309.83,350.17 322.13,342.85 334.43,337.84 346.73,329.81 359.03,298.55" fill="none" stroke="#b5621e" stroke-width="1.2" stroke-dasharray="3,1.8"/>
<polyline points="54.65,410.92 60.8,409.91 66.95,390.96 73.1,392.6 79.25,395.11 85.39,395.97 91.54,395.11 97.69,392.6 103.84,390.15 109.99,388.56 116.14,387.77 122.29,385.46 128.44,384.7 134.59,384.7 140.74,385.46 146.88,386.99 153.03,387.77 159.18,388.56 165.33,390.15 171.48,390.96 177.63,389.35 183.78,388.56 189.93,388.56 196.08,386.22 202.23,389.35 208.38,392.6 214.52,398.59 220.67,405.97 226.82,412.98 232.97,419.48 239.12,424.09 245.27,427.72 251.42,428.96 257.57,430.22 263.72,430.22 269.87,431.5 276.01,434.12 282.16,438.2 288.31,442.47 294.46,448.52 300.61,456.72 309.83,465.76 322.13,480.23 334.43,485.79 346.73,490.61 359.03,480.23" fill="none" stroke="#43a01f" stroke-width="1.1" stroke-dasharray="2.6,2"/>
<polyline points="54.65,417.26 60.8,422.92 66.95,396.83 73.1,386.99 79.25,382.46 85.39,381 91.54,382.46 97.69,385.46 103.84,388.56 109.99,392.6 116.14,394.27 122.29,395.11 128.44,395.97 134.59,395.97 140.74,396.83 146.88,396.83 153.03,398.59 159.18,399.47 165.33,399.47 171.48,398.59 177.63,395.11 183.78,392.6 189.93,389.35 196.08,386.99 202.23,387.77 208.38,389.35 214.52,393.43 220.67,399.47 226.82,404.06 232.97,408.91 239.12,411.95 245.27,414.03 251.42,414.03 257.57,412.98 263.72,412.98 269.87,411.95 276.01,415.1 282.16,417.26 288.31,421.76 294.46,422.92 300.61,428.96 309.83,436.82 322.13,442.47 334.43,453.35 346.73,460.22 359.03,450.1" fill="none" stroke="#0000f0" stroke-width="1.1"/>
<polyline points="54.65,416.17 60.8,396.83 66.95,374.04 73.1,366.97 79.25,368.22 85.39,372.71 91.54,377.45 97.69,384.7 103.84,390.96 109.99,395.97 116.14,402.2 122.29,405.01 128.44,407.92 134.59,409.91 140.74,410.92 146.88,414.03 153.03,415.1 159.18,418.36 165.33,419.48 171.48,422.33 177.63,424.09 183.78,424.09 189.93,424.09 196.08,422.33 202.23,425.29 208.38,430.22 214.52,438.2 220.67,445.44 226.82,453.35 232.97,460.22 239.12,465.76 245.27,469.66 251.42,473.95 257.57,479.21 263.72,483.6 269.87,484.47 276.01,486.66 282.16,488.42 288.31,495.87 294.46,504.63 300.61,508.57 309.83,520.41 322.13,533.55 334.43,551.96 346.73,561.6 359.03,560.72" fill="none" stroke="#1b9ec0" stroke-width="1.2" stroke-dasharray="4,1.6,1.2,1.6"/>
<polyline points="54.65,547.99 60.8,408.11 66.95,371.92 73.1,365.14 79.25,365.14 85.39,366.36 91.54,371.4 97.69,378.85 103.84,386.22 109.99,393.43 116.14,400.37 122.29,403.13 128.44,405.01 134.59,405.01 140.74,405.97 146.88,405.01 153.03,405.01 159.18,405.01 165.33,401.28 171.48,398.59 177.63,395.11 183.78,389.35 189.93,383.94 196.08,374.04 202.23,372.05 208.38,370.76 214.52,372.05 220.67,374.04 226.82,375.39 232.97,375.39 239.12,372.71 245.27,368.84 251.42,358.17 257.57,351.72 263.72,348.16 269.87,342.38 276.01,336.52 282.16,327.42 288.31,325.86 294.46,326.63 300.61,319.53 309.83,319.53 322.13,306.55 334.43,301.73 346.73,296.91 359.03,266.68" fill="none" stroke="#ff0000" stroke-width="1.0" stroke-dasharray="1,1"/>
<line x1="346.73" y1="455.72" x2="346.73" y2="463.22" stroke="#0000f0" stroke-width="1"/>
<line x1="359.03" y1="445.6" x2="359.03" y2="453.1" stroke="#0000f0" stroke-width="1"/>
<circle cx="54.65" cy="418.36" r="2.6" fill="none" stroke="#b5621e" stroke-width="1.1"/>
<circle cx="60.8" cy="333.94" r="2.6" fill="none" stroke="#b5621e" stroke-width="1.1"/>
<circle cx="66.95" cy="366.36" r="2.6" fill="none" stroke="#b5621e" stroke-width="1.1"/>
<circle cx="73.1" cy="393.43" r="2.6" fill="none" stroke="#b5621e" stroke-width="1.1"/>
<circle cx="79.25" cy="404.54" r="2.6" fill="none" stroke="#b5621e" stroke-width="1.1"/>
<circle cx="85.39" cy="407.92" r="2.6" fill="none" stroke="#b5621e" stroke-width="1.1"/>
<circle cx="91.54" cy="408.91" r="2.6" fill="none" stroke="#b5621e" stroke-width="1.1"/>
<circle cx="97.69" cy="409.41" r="2.6" fill="none" stroke="#b5621e" stroke-width="1.1"/>
<circle cx="103.84" cy="409.91" r="2.6" fill="none" stroke="#b5621e" stroke-width="1.1"/>
<circle cx="109.99" cy="410.92" r="2.6" fill="none" stroke="#b5621e" stroke-width="1.1"/>
<circle cx="116.14" cy="412.98" r="2.6" fill="none" stroke="#b5621e" stroke-width="1.1"/>
<circle cx="122.29" cy="412.98" r="2.6" fill="none" stroke="#b5621e" stroke-width="1.1"/>
<circle cx="128.44" cy="414.03" r="2.6" fill="none" stroke="#b5621e" stroke-width="1.1"/>
<circle cx="134.59" cy="414.03" r="2.6" fill="none" stroke="#b5621e" stroke-width="1.1"/>
<circle cx="140.74" cy="414.03" r="2.6" fill="none" stroke="#b5621e" stroke-width="1.1"/>
<circle cx="146.88" cy="415.1" r="2.6" fill="none" stroke="#b5621e" stroke-width="1.1"/>
<circle cx="153.03" cy="415.1" r="2.6" fill="none" stroke="#b5621e" stroke-width="1.1"/>
<circle cx="159.18" cy="414.03" r="2.6" fill="none" stroke="#b5621e" stroke-width="1.1"/>
<circle cx="165.33" cy="414.03" r="2.6" fill="none" stroke="#b5621e" stroke-width="1.1"/>
<circle cx="171.48" cy="412.98" r="2.6" fill="none" stroke="#b5621e" stroke-width="1.1"/>
<circle cx="177.63" cy="409.91" r="2.6" fill="none" stroke="#b5621e" stroke-width="1.1"/>
<circle cx="183.78" cy="403.13" r="2.6" fill="none" stroke="#b5621e" stroke-width="1.1"/>
<circle cx="189.93" cy="399.47" r="2.6" fill="none" stroke="#b5621e" stroke-width="1.1"/>
<circle cx="196.08" cy="395.11" r="2.6" fill="none" stroke="#b5621e" stroke-width="1.1"/>
<circle cx="202.23" cy="392.6" r="2.6" fill="none" stroke="#b5621e" stroke-width="1.1"/>
<circle cx="208.38" cy="390.96" r="2.6" fill="none" stroke="#b5621e" stroke-width="1.1"/>
<circle cx="214.52" cy="393.43" r="2.6" fill="none" stroke="#b5621e" stroke-width="1.1"/>
<circle cx="220.67" cy="395.11" r="2.6" fill="none" stroke="#b5621e" stroke-width="1.1"/>
<circle cx="226.82" cy="395.11" r="2.6" fill="none" stroke="#b5621e" stroke-width="1.1"/>
<circle cx="232.97" cy="395.97" r="2.6" fill="none" stroke="#b5621e" stroke-width="1.1"/>
<circle cx="239.12" cy="393.43" r="2.6" fill="none" stroke="#b5621e" stroke-width="1.1"/>
<circle cx="245.27" cy="390.15" r="2.6" fill="none" stroke="#b5621e" stroke-width="1.1"/>
<circle cx="251.42" cy="387.77" r="2.6" fill="none" stroke="#b5621e" stroke-width="1.1"/>
<circle cx="257.57" cy="381" r="2.6" fill="none" stroke="#b5621e" stroke-width="1.1"/>
<circle cx="263.72" cy="373.37" r="2.6" fill="none" stroke="#b5621e" stroke-width="1.1"/>
<circle cx="269.87" cy="370.11" r="2.6" fill="none" stroke="#b5621e" stroke-width="1.1"/>
<circle cx="276.01" cy="363.35" r="2.6" fill="none" stroke="#b5621e" stroke-width="1.1"/>
<circle cx="282.16" cy="356.51" r="2.6" fill="none" stroke="#b5621e" stroke-width="1.1"/>
<circle cx="288.31" cy="353.82" r="2.6" fill="none" stroke="#b5621e" stroke-width="1.1"/>
<circle cx="294.46" cy="351.72" r="2.6" fill="none" stroke="#b5621e" stroke-width="1.1"/>
<circle cx="300.61" cy="353.29" r="2.6" fill="none" stroke="#b5621e" stroke-width="1.1"/>
<circle cx="309.83" cy="350.17" r="2.6" fill="none" stroke="#b5621e" stroke-width="1.1"/>
<circle cx="322.13" cy="342.85" r="2.6" fill="none" stroke="#b5621e" stroke-width="1.1"/>
<circle cx="334.43" cy="337.84" r="2.6" fill="none" stroke="#b5621e" stroke-width="1.1"/>
<circle cx="346.73" cy="329.81" r="2.6" fill="none" stroke="#b5621e" stroke-width="1.1"/>
<circle cx="359.03" cy="298.55" r="2.6" fill="none" stroke="#b5621e" stroke-width="1.1"/>
<rect x="52" y="408.27" width="5.3" height="5.3" fill="none" stroke="#43a01f" stroke-width="1.1"/>
<rect x="58.15" y="407.26" width="5.3" height="5.3" fill="none" stroke="#43a01f" stroke-width="1.1"/>
<rect x="64.3" y="388.31" width="5.3" height="5.3" fill="none" stroke="#43a01f" stroke-width="1.1"/>
<rect x="70.45" y="389.95" width="5.3" height="5.3" fill="none" stroke="#43a01f" stroke-width="1.1"/>
<rect x="76.6" y="392.46" width="5.3" height="5.3" fill="none" stroke="#43a01f" stroke-width="1.1"/>
<rect x="82.74" y="393.32" width="5.3" height="5.3" fill="none" stroke="#43a01f" stroke-width="1.1"/>
<rect x="88.89" y="392.46" width="5.3" height="5.3" fill="none" stroke="#43a01f" stroke-width="1.1"/>
<rect x="95.04" y="389.95" width="5.3" height="5.3" fill="none" stroke="#43a01f" stroke-width="1.1"/>
<rect x="101.19" y="387.5" width="5.3" height="5.3" fill="none" stroke="#43a01f" stroke-width="1.1"/>
<rect x="107.34" y="385.91" width="5.3" height="5.3" fill="none" stroke="#43a01f" stroke-width="1.1"/>
<rect x="113.49" y="385.12" width="5.3" height="5.3" fill="none" stroke="#43a01f" stroke-width="1.1"/>
<rect x="119.64" y="382.81" width="5.3" height="5.3" fill="none" stroke="#43a01f" stroke-width="1.1"/>
<rect x="125.79" y="382.05" width="5.3" height="5.3" fill="none" stroke="#43a01f" stroke-width="1.1"/>
<rect x="131.94" y="382.05" width="5.3" height="5.3" fill="none" stroke="#43a01f" stroke-width="1.1"/>
<rect x="138.09" y="382.81" width="5.3" height="5.3" fill="none" stroke="#43a01f" stroke-width="1.1"/>
<rect x="144.23" y="384.34" width="5.3" height="5.3" fill="none" stroke="#43a01f" stroke-width="1.1"/>
<rect x="150.38" y="385.12" width="5.3" height="5.3" fill="none" stroke="#43a01f" stroke-width="1.1"/>
<rect x="156.53" y="385.91" width="5.3" height="5.3" fill="none" stroke="#43a01f" stroke-width="1.1"/>
<rect x="162.68" y="387.5" width="5.3" height="5.3" fill="none" stroke="#43a01f" stroke-width="1.1"/>
<rect x="168.83" y="388.31" width="5.3" height="5.3" fill="none" stroke="#43a01f" stroke-width="1.1"/>
<rect x="174.98" y="386.7" width="5.3" height="5.3" fill="none" stroke="#43a01f" stroke-width="1.1"/>
<rect x="181.13" y="385.91" width="5.3" height="5.3" fill="none" stroke="#43a01f" stroke-width="1.1"/>
<rect x="187.28" y="385.91" width="5.3" height="5.3" fill="none" stroke="#43a01f" stroke-width="1.1"/>
<rect x="193.43" y="383.57" width="5.3" height="5.3" fill="none" stroke="#43a01f" stroke-width="1.1"/>
<rect x="199.58" y="386.7" width="5.3" height="5.3" fill="none" stroke="#43a01f" stroke-width="1.1"/>
<rect x="205.72" y="389.95" width="5.3" height="5.3" fill="none" stroke="#43a01f" stroke-width="1.1"/>
<rect x="211.87" y="395.94" width="5.3" height="5.3" fill="none" stroke="#43a01f" stroke-width="1.1"/>
<rect x="218.02" y="403.32" width="5.3" height="5.3" fill="none" stroke="#43a01f" stroke-width="1.1"/>
<rect x="224.17" y="410.33" width="5.3" height="5.3" fill="none" stroke="#43a01f" stroke-width="1.1"/>
<rect x="230.32" y="416.83" width="5.3" height="5.3" fill="none" stroke="#43a01f" stroke-width="1.1"/>
<rect x="236.47" y="421.44" width="5.3" height="5.3" fill="none" stroke="#43a01f" stroke-width="1.1"/>
<rect x="242.62" y="425.07" width="5.3" height="5.3" fill="none" stroke="#43a01f" stroke-width="1.1"/>
<rect x="248.77" y="426.31" width="5.3" height="5.3" fill="none" stroke="#43a01f" stroke-width="1.1"/>
<rect x="254.92" y="427.57" width="5.3" height="5.3" fill="none" stroke="#43a01f" stroke-width="1.1"/>
<rect x="261.07" y="427.57" width="5.3" height="5.3" fill="none" stroke="#43a01f" stroke-width="1.1"/>
<rect x="267.22" y="428.85" width="5.3" height="5.3" fill="none" stroke="#43a01f" stroke-width="1.1"/>
<rect x="273.36" y="431.47" width="5.3" height="5.3" fill="none" stroke="#43a01f" stroke-width="1.1"/>
<rect x="279.51" y="435.55" width="5.3" height="5.3" fill="none" stroke="#43a01f" stroke-width="1.1"/>
<rect x="285.66" y="439.82" width="5.3" height="5.3" fill="none" stroke="#43a01f" stroke-width="1.1"/>
<rect x="291.81" y="445.87" width="5.3" height="5.3" fill="none" stroke="#43a01f" stroke-width="1.1"/>
<rect x="297.96" y="454.07" width="5.3" height="5.3" fill="none" stroke="#43a01f" stroke-width="1.1"/>
<rect x="307.18" y="463.11" width="5.3" height="5.3" fill="none" stroke="#43a01f" stroke-width="1.1"/>
<rect x="319.48" y="477.58" width="5.3" height="5.3" fill="none" stroke="#43a01f" stroke-width="1.1"/>
<rect x="331.78" y="483.14" width="5.3" height="5.3" fill="none" stroke="#43a01f" stroke-width="1.1"/>
<rect x="344.08" y="487.96" width="5.3" height="5.3" fill="none" stroke="#43a01f" stroke-width="1.1"/>
<rect x="356.38" y="477.58" width="5.3" height="5.3" fill="none" stroke="#43a01f" stroke-width="1.1"/>
<path d="M54.65 414.66l3 4.9h-6z" fill="#0000f0"/>
<path d="M60.8 420.32l3 4.9h-6z" fill="#0000f0"/>
<path d="M66.95 394.23l3 4.9h-6z" fill="#0000f0"/>
<path d="M73.1 384.39l3 4.9h-6z" fill="#0000f0"/>
<path d="M79.25 379.86l3 4.9h-6z" fill="#0000f0"/>
<path d="M85.39 378.4l3 4.9h-6z" fill="#0000f0"/>
<path d="M91.54 379.86l3 4.9h-6z" fill="#0000f0"/>
<path d="M97.69 382.86l3 4.9h-6z" fill="#0000f0"/>
<path d="M103.84 385.96l3 4.9h-6z" fill="#0000f0"/>
<path d="M109.99 390l3 4.9h-6z" fill="#0000f0"/>
<path d="M116.14 391.67l3 4.9h-6z" fill="#0000f0"/>
<path d="M122.29 392.51l3 4.9h-6z" fill="#0000f0"/>
<path d="M128.44 393.37l3 4.9h-6z" fill="#0000f0"/>
<path d="M134.59 393.37l3 4.9h-6z" fill="#0000f0"/>
<path d="M140.74 394.23l3 4.9h-6z" fill="#0000f0"/>
<path d="M146.88 394.23l3 4.9h-6z" fill="#0000f0"/>
<path d="M153.03 395.99l3 4.9h-6z" fill="#0000f0"/>
<path d="M159.18 396.87l3 4.9h-6z" fill="#0000f0"/>
<path d="M165.33 396.87l3 4.9h-6z" fill="#0000f0"/>
<path d="M171.48 395.99l3 4.9h-6z" fill="#0000f0"/>
<path d="M177.63 392.51l3 4.9h-6z" fill="#0000f0"/>
<path d="M183.78 390l3 4.9h-6z" fill="#0000f0"/>
<path d="M189.93 386.75l3 4.9h-6z" fill="#0000f0"/>
<path d="M196.08 384.39l3 4.9h-6z" fill="#0000f0"/>
<path d="M202.23 385.17l3 4.9h-6z" fill="#0000f0"/>
<path d="M208.38 386.75l3 4.9h-6z" fill="#0000f0"/>
<path d="M214.52 390.83l3 4.9h-6z" fill="#0000f0"/>
<path d="M220.67 396.87l3 4.9h-6z" fill="#0000f0"/>
<path d="M226.82 401.46l3 4.9h-6z" fill="#0000f0"/>
<path d="M232.97 406.31l3 4.9h-6z" fill="#0000f0"/>
<path d="M239.12 409.35l3 4.9h-6z" fill="#0000f0"/>
<path d="M245.27 411.43l3 4.9h-6z" fill="#0000f0"/>
<path d="M251.42 411.43l3 4.9h-6z" fill="#0000f0"/>
<path d="M257.57 410.38l3 4.9h-6z" fill="#0000f0"/>
<path d="M263.72 410.38l3 4.9h-6z" fill="#0000f0"/>
<path d="M269.87 409.35l3 4.9h-6z" fill="#0000f0"/>
<path d="M276.01 412.5l3 4.9h-6z" fill="#0000f0"/>
<path d="M282.16 414.66l3 4.9h-6z" fill="#0000f0"/>
<path d="M288.31 419.16l3 4.9h-6z" fill="#0000f0"/>
<path d="M294.46 420.32l3 4.9h-6z" fill="#0000f0"/>
<path d="M300.61 426.36l3 4.9h-6z" fill="#0000f0"/>
<path d="M309.83 434.22l3 4.9h-6z" fill="#0000f0"/>
<path d="M322.13 439.87l3 4.9h-6z" fill="#0000f0"/>
<path d="M334.43 450.75l3 4.9h-6z" fill="#0000f0"/>
<path d="M346.73 457.62l3 4.9h-6z" fill="#0000f0"/>
<path d="M359.03 447.5l3 4.9h-6z" fill="#0000f0"/>
<path d="M54.65 418.77l3 -4.9h-6z" fill="#1b9ec0"/>
<path d="M60.8 399.43l3 -4.9h-6z" fill="#1b9ec0"/>
<path d="M66.95 376.64l3 -4.9h-6z" fill="#1b9ec0"/>
<path d="M73.1 369.57l3 -4.9h-6z" fill="#1b9ec0"/>
<path d="M79.25 370.82l3 -4.9h-6z" fill="#1b9ec0"/>
<path d="M85.39 375.31l3 -4.9h-6z" fill="#1b9ec0"/>
<path d="M91.54 380.05l3 -4.9h-6z" fill="#1b9ec0"/>
<path d="M97.69 387.3l3 -4.9h-6z" fill="#1b9ec0"/>
<path d="M103.84 393.56l3 -4.9h-6z" fill="#1b9ec0"/>
<path d="M109.99 398.57l3 -4.9h-6z" fill="#1b9ec0"/>
<path d="M116.14 404.8l3 -4.9h-6z" fill="#1b9ec0"/>
<path d="M122.29 407.61l3 -4.9h-6z" fill="#1b9ec0"/>
<path d="M128.44 410.52l3 -4.9h-6z" fill="#1b9ec0"/>
<path d="M134.59 412.51l3 -4.9h-6z" fill="#1b9ec0"/>
<path d="M140.74 413.52l3 -4.9h-6z" fill="#1b9ec0"/>
<path d="M146.88 416.63l3 -4.9h-6z" fill="#1b9ec0"/>
<path d="M153.03 417.7l3 -4.9h-6z" fill="#1b9ec0"/>
<path d="M159.18 420.96l3 -4.9h-6z" fill="#1b9ec0"/>
<path d="M165.33 422.08l3 -4.9h-6z" fill="#1b9ec0"/>
<path d="M171.48 424.93l3 -4.9h-6z" fill="#1b9ec0"/>
<path d="M177.63 426.69l3 -4.9h-6z" fill="#1b9ec0"/>
<path d="M183.78 426.69l3 -4.9h-6z" fill="#1b9ec0"/>
<path d="M189.93 426.69l3 -4.9h-6z" fill="#1b9ec0"/>
<path d="M196.08 424.93l3 -4.9h-6z" fill="#1b9ec0"/>
<path d="M202.23 427.89l3 -4.9h-6z" fill="#1b9ec0"/>
<path d="M208.38 432.82l3 -4.9h-6z" fill="#1b9ec0"/>
<path d="M214.52 440.8l3 -4.9h-6z" fill="#1b9ec0"/>
<path d="M220.67 448.04l3 -4.9h-6z" fill="#1b9ec0"/>
<path d="M226.82 455.95l3 -4.9h-6z" fill="#1b9ec0"/>
<path d="M232.97 462.82l3 -4.9h-6z" fill="#1b9ec0"/>
<path d="M239.12 468.36l3 -4.9h-6z" fill="#1b9ec0"/>
<path d="M245.27 472.26l3 -4.9h-6z" fill="#1b9ec0"/>
<path d="M251.42 476.55l3 -4.9h-6z" fill="#1b9ec0"/>
<path d="M257.57 481.81l3 -4.9h-6z" fill="#1b9ec0"/>
<path d="M263.72 486.2l3 -4.9h-6z" fill="#1b9ec0"/>
<path d="M269.87 487.07l3 -4.9h-6z" fill="#1b9ec0"/>
<path d="M276.01 489.26l3 -4.9h-6z" fill="#1b9ec0"/>
<path d="M282.16 491.02l3 -4.9h-6z" fill="#1b9ec0"/>
<path d="M288.31 498.47l3 -4.9h-6z" fill="#1b9ec0"/>
<path d="M294.46 507.23l3 -4.9h-6z" fill="#1b9ec0"/>
<path d="M300.61 511.17l3 -4.9h-6z" fill="#1b9ec0"/>
<path d="M309.83 523.01l3 -4.9h-6z" fill="#1b9ec0"/>
<path d="M322.13 536.15l3 -4.9h-6z" fill="#1b9ec0"/>
<path d="M334.43 554.56l3 -4.9h-6z" fill="#1b9ec0"/>
<path d="M346.73 564.2l3 -4.9h-6z" fill="#1b9ec0"/>
<path d="M359.03 563.32l3 -4.9h-6z" fill="#1b9ec0"/>
<path d="M54.65 544.79l2.1 3.2l-2.1 3.2l-2.1 -3.2z" fill="#ff0000"/>
<path d="M60.8 404.91l2.1 3.2l-2.1 3.2l-2.1 -3.2z" fill="#ff0000"/>
<path d="M66.95 368.72l2.1 3.2l-2.1 3.2l-2.1 -3.2z" fill="#ff0000"/>
<path d="M73.1 361.94l2.1 3.2l-2.1 3.2l-2.1 -3.2z" fill="#ff0000"/>
<path d="M79.25 361.94l2.1 3.2l-2.1 3.2l-2.1 -3.2z" fill="#ff0000"/>
<path d="M85.39 363.16l2.1 3.2l-2.1 3.2l-2.1 -3.2z" fill="#ff0000"/>
<path d="M91.54 368.2l2.1 3.2l-2.1 3.2l-2.1 -3.2z" fill="#ff0000"/>
<path d="M97.69 375.65l2.1 3.2l-2.1 3.2l-2.1 -3.2z" fill="#ff0000"/>
<path d="M103.84 383.02l2.1 3.2l-2.1 3.2l-2.1 -3.2z" fill="#ff0000"/>
<path d="M109.99 390.23l2.1 3.2l-2.1 3.2l-2.1 -3.2z" fill="#ff0000"/>
<path d="M116.14 397.17l2.1 3.2l-2.1 3.2l-2.1 -3.2z" fill="#ff0000"/>
<path d="M122.29 399.93l2.1 3.2l-2.1 3.2l-2.1 -3.2z" fill="#ff0000"/>
<path d="M128.44 401.81l2.1 3.2l-2.1 3.2l-2.1 -3.2z" fill="#ff0000"/>
<path d="M134.59 401.81l2.1 3.2l-2.1 3.2l-2.1 -3.2z" fill="#ff0000"/>
<path d="M140.74 402.77l2.1 3.2l-2.1 3.2l-2.1 -3.2z" fill="#ff0000"/>
<path d="M146.88 401.81l2.1 3.2l-2.1 3.2l-2.1 -3.2z" fill="#ff0000"/>
<path d="M153.03 401.81l2.1 3.2l-2.1 3.2l-2.1 -3.2z" fill="#ff0000"/>
<path d="M159.18 401.81l2.1 3.2l-2.1 3.2l-2.1 -3.2z" fill="#ff0000"/>
<path d="M165.33 398.08l2.1 3.2l-2.1 3.2l-2.1 -3.2z" fill="#ff0000"/>
<path d="M171.48 395.39l2.1 3.2l-2.1 3.2l-2.1 -3.2z" fill="#ff0000"/>
<path d="M177.63 391.91l2.1 3.2l-2.1 3.2l-2.1 -3.2z" fill="#ff0000"/>
<path d="M183.78 386.15l2.1 3.2l-2.1 3.2l-2.1 -3.2z" fill="#ff0000"/>
<path d="M189.93 380.74l2.1 3.2l-2.1 3.2l-2.1 -3.2z" fill="#ff0000"/>
<path d="M196.08 370.84l2.1 3.2l-2.1 3.2l-2.1 -3.2z" fill="#ff0000"/>
<path d="M202.23 368.85l2.1 3.2l-2.1 3.2l-2.1 -3.2z" fill="#ff0000"/>
<path d="M208.38 367.56l2.1 3.2l-2.1 3.2l-2.1 -3.2z" fill="#ff0000"/>
<path d="M214.52 368.85l2.1 3.2l-2.1 3.2l-2.1 -3.2z" fill="#ff0000"/>
<path d="M220.67 370.84l2.1 3.2l-2.1 3.2l-2.1 -3.2z" fill="#ff0000"/>
<path d="M226.82 372.19l2.1 3.2l-2.1 3.2l-2.1 -3.2z" fill="#ff0000"/>
<path d="M232.97 372.19l2.1 3.2l-2.1 3.2l-2.1 -3.2z" fill="#ff0000"/>
<path d="M239.12 369.51l2.1 3.2l-2.1 3.2l-2.1 -3.2z" fill="#ff0000"/>
<path d="M245.27 365.64l2.1 3.2l-2.1 3.2l-2.1 -3.2z" fill="#ff0000"/>
<path d="M251.42 354.97l2.1 3.2l-2.1 3.2l-2.1 -3.2z" fill="#ff0000"/>
<path d="M257.57 348.52l2.1 3.2l-2.1 3.2l-2.1 -3.2z" fill="#ff0000"/>
<path d="M263.72 344.96l2.1 3.2l-2.1 3.2l-2.1 -3.2z" fill="#ff0000"/>
<path d="M269.87 339.18l2.1 3.2l-2.1 3.2l-2.1 -3.2z" fill="#ff0000"/>
<path d="M276.01 333.32l2.1 3.2l-2.1 3.2l-2.1 -3.2z" fill="#ff0000"/>
<path d="M282.16 324.22l2.1 3.2l-2.1 3.2l-2.1 -3.2z" fill="#ff0000"/>
<path d="M288.31 322.66l2.1 3.2l-2.1 3.2l-2.1 -3.2z" fill="#ff0000"/>
<path d="M294.46 323.43l2.1 3.2l-2.1 3.2l-2.1 -3.2z" fill="#ff0000"/>
<path d="M300.61 316.33l2.1 3.2l-2.1 3.2l-2.1 -3.2z" fill="#ff0000"/>
<path d="M309.83 316.33l2.1 3.2l-2.1 3.2l-2.1 -3.2z" fill="#ff0000"/>
<path d="M322.13 303.35l2.1 3.2l-2.1 3.2l-2.1 -3.2z" fill="#ff0000"/>
<path d="M334.43 298.53l2.1 3.2l-2.1 3.2l-2.1 -3.2z" fill="#ff0000"/>
<path d="M346.73 293.71l2.1 3.2l-2.1 3.2l-2.1 -3.2z" fill="#ff0000"/>
<path d="M359.03 263.48l2.1 3.2l-2.1 3.2l-2.1 -3.2z" fill="#ff0000"/>
</g>
<path d="M45.5 314.18h5.7 M371.3 314.18h-5.7 M45.5 309.71h5.7 M371.3 309.71h-5.7 M45.5 306.07h5.7 M371.3 306.07h-5.7 M45.5 302.98h5.7 M371.3 302.98h-5.7 M45.5 300.31h5.7 M371.3 300.31h-5.7 M45.5 297.96h5.7 M371.3 297.96h-5.7 M45.5 295.85h11.5 M371.3 295.85h-11.5 M45.5 281.99h5.7 M371.3 281.99h-5.7 M45.5 273.88h5.7 M371.3 273.88h-5.7 M45.5 268.13h5.7 M371.3 268.13h-5.7 M45.5 263.66h5.7 M371.3 263.66h-5.7 M45.5 260.02h5.7 M371.3 260.02h-5.7 M45.5 256.93h5.7 M371.3 256.93h-5.7 M45.5 254.26h5.7 M371.3 254.26h-5.7 M45.5 251.91h5.7 M371.3 251.91h-5.7 M45.5 249.8h11.5 M371.3 249.8h-11.5 M45.5 235.94h5.7 M371.3 235.94h-5.7 M45.5 227.83h5.7 M371.3 227.83h-5.7 M45.5 222.08h5.7 M371.3 222.08h-5.7 M45.5 217.61h5.7 M371.3 217.61h-5.7 M45.5 213.97h5.7 M371.3 213.97h-5.7 M45.5 210.88h5.7 M371.3 210.88h-5.7 M45.5 208.21h5.7 M371.3 208.21h-5.7 M45.5 205.86h5.7 M371.3 205.86h-5.7 M45.5 203.75h11.5 M371.3 203.75h-11.5 M45.5 189.89h5.7 M371.3 189.89h-5.7 M45.5 181.78h5.7 M371.3 181.78h-5.7 M45.5 176.03h5.7 M371.3 176.03h-5.7 M45.5 171.56h5.7 M371.3 171.56h-5.7 M45.5 167.92h5.7 M371.3 167.92h-5.7 M45.5 164.83h5.7 M371.3 164.83h-5.7 M45.5 162.16h5.7 M371.3 162.16h-5.7 M45.5 159.81h5.7 M371.3 159.81h-5.7 M45.5 157.7h11.5 M371.3 157.7h-11.5 M45.5 143.84h5.7 M371.3 143.84h-5.7 M45.5 135.73h5.7 M371.3 135.73h-5.7 M45.5 129.98h5.7 M371.3 129.98h-5.7 M45.5 125.51h5.7 M371.3 125.51h-5.7 M45.5 121.87h5.7 M371.3 121.87h-5.7 M45.5 118.78h5.7 M371.3 118.78h-5.7 M45.5 116.11h5.7 M371.3 116.11h-5.7 M45.5 113.76h5.7 M371.3 113.76h-5.7 M45.5 111.65h11.5 M371.3 111.65h-11.5 M45.5 97.79h5.7 M371.3 97.79h-5.7 M45.5 89.68h5.7 M371.3 89.68h-5.7 M45.5 83.93h5.7 M371.3 83.93h-5.7 M45.5 79.46h5.7 M371.3 79.46h-5.7 M45.5 75.82h5.7 M371.3 75.82h-5.7 M45.5 72.73h5.7 M371.3 72.73h-5.7 M45.5 70.06h5.7 M371.3 70.06h-5.7 M45.5 67.71h5.7 M371.3 67.71h-5.7 M45.5 65.6h11.5 M371.3 65.6h-11.5 M45.5 51.74h5.7 M371.3 51.74h-5.7 M45.5 43.63h5.7 M371.3 43.63h-5.7 M45.5 37.88h5.7 M371.3 37.88h-5.7 M45.5 33.41h5.7 M371.3 33.41h-5.7 M45.5 29.77h5.7 M371.3 29.77h-5.7 M45.5 26.68h5.7 M371.3 26.68h-5.7 M45.5 24.01h5.7 M371.3 24.01h-5.7 M45.5 21.66h5.7 M371.3 21.66h-5.7 M45.5 19.55h11.5 M371.3 19.55h-11.5 M45.5 458.45h7 M371.3 458.45h-7 M45.5 442.47h5.2 M371.3 442.47h-5.2 M45.5 428.96h5.2 M371.3 428.96h-5.2 M45.5 417.26h5.2 M371.3 417.26h-5.2 M45.5 406.94h5.2 M371.3 406.94h-5.2 M45.5 397.7h7 M371.3 397.7h-7 M45.5 389.35h5.2 M371.3 389.35h-5.2 M45.5 381.73h5.2 M371.3 381.73h-5.2 M45.5 374.71h5.2 M371.3 374.71h-5.2 M45.5 368.22h5.2 M371.3 368.22h-5.2 M45.5 362.17h5.2 M371.3 362.17h-5.2 M45.5 356.51h5.2 M371.3 356.51h-5.2 M45.5 351.2h5.2 M371.3 351.2h-5.2 M45.5 346.19h5.2 M371.3 346.19h-5.2 M45.5 341.45h5.2 M371.3 341.45h-5.2 M45.5 336.96h7 M371.3 336.96h-7 M45.5 332.68h5.2 M371.3 332.68h-5.2 M45.5 328.6h5.2 M371.3 328.6h-5.2 M45.5 324.71h5.2 M371.3 324.71h-5.2 M45.5 320.98h5.2 M371.3 320.98h-5.2 M45.5 317.4h5.2 M371.3 317.4h-5.2 M54.65 17.4v8 M54.65 317.4v-8 M54.65 317.4v5 M54.65 477.9v-4.5 M85.39 17.4v4.3 M85.39 317.4v-4.3 M85.39 317.4v2.6 M85.39 477.9v-2.5 M116.14 17.4v4.3 M116.14 317.4v-4.3 M116.14 317.4v2.6 M116.14 477.9v-2.5 M146.88 17.4v4.3 M146.88 317.4v-4.3 M146.88 317.4v2.6 M146.88 477.9v-2.5 M177.63 17.4v8 M177.63 317.4v-8 M177.63 317.4v5 M177.63 477.9v-4.5 M208.38 17.4v4.3 M208.38 317.4v-4.3 M208.38 317.4v2.6 M208.38 477.9v-2.5 M239.12 17.4v4.3 M239.12 317.4v-4.3 M239.12 317.4v2.6 M239.12 477.9v-2.5 M269.87 17.4v4.3 M269.87 317.4v-4.3 M269.87 317.4v2.6 M269.87 477.9v-2.5 M300.61 17.4v8 M300.61 317.4v-8 M300.61 317.4v5 M300.61 477.9v-4.5 M331.35 17.4v4.3 M331.35 317.4v-4.3 M331.35 317.4v2.6 M331.35 477.9v-2.5 M362.1 17.4v4.3 M362.1 317.4v-4.3 M362.1 317.4v2.6 M362.1 477.9v-2.5" stroke="#000" stroke-width="1" fill="none"/>
<rect x="45.5" y="17.4" width="325.8" height="460.5" fill="none" stroke="#000" stroke-width="1.3"/>
<line x1="45.5" y1="317.4" x2="371.3" y2="317.4" stroke="#000" stroke-width="1.3"/>
<g fill="#000">
<text x="40.6" y="23.95" text-anchor="end" font-size="10.7">10</text>
<text x="40.4" y="69.7" text-anchor="end" font-size="10.7">1</text>
<text x="40.2" y="116.75" text-anchor="end" font-size="10.7">10<tspan font-size="7.4" dy="-5">&#8722;1</tspan></text>
<text x="40.2" y="162.8" text-anchor="end" font-size="10.7">10<tspan font-size="7.4" dy="-5">&#8722;2</tspan></text>
<text x="40.2" y="208.85" text-anchor="end" font-size="10.7">10<tspan font-size="7.4" dy="-5">&#8722;3</tspan></text>
<text x="40.2" y="254.9" text-anchor="end" font-size="10.7">10<tspan font-size="7.4" dy="-5">&#8722;4</tspan></text>
<text x="40.2" y="300.95" text-anchor="end" font-size="10.7">10<tspan font-size="7.4" dy="-5">&#8722;5</tspan></text>
<text x="38.6" y="340.76" text-anchor="end" font-size="11.6">2</text>
<text x="374.3" y="340.76" font-size="11.6">2</text>
<text x="38.6" y="401.5" text-anchor="end" font-size="11.6">1</text>
<text x="374.3" y="401.5" font-size="11.6">1</text>
<text x="38.6" y="462.25" text-anchor="end" font-size="11.6">0.5</text>
<text x="374.3" y="462.25" font-size="11.6">0.5</text>
<text x="54.65" y="489.2" text-anchor="middle" font-size="11.8">0</text>
<text x="177.63" y="489.2" text-anchor="middle" font-size="11.8">20</text>
<text x="300.61" y="489.2" text-anchor="middle" font-size="11.8">40</text>
</g>
<text x="354" y="503.2" font-size="12">N</text><text x="362.6" y="506.6" font-size="7.5" textLength="8.6" lengthAdjust="spacingAndGlyphs">ch</text>
<text x="51" y="13.8" font-size="11.9">2360 GeV pp</text>
<text x="366.6" y="13.8" font-size="11.9" text-anchor="end">Soft QCD</text>
<text x="81.4" y="42.9" font-size="11.9" textLength="108.4" lengthAdjust="spacing">Charged multiplicity,</text>
<text x="193.3" y="42.9" font-size="11.9">&#951;|&lt;1.0 ,&#8730;s=2.36 TeV (INEL)</text>
<text x="193.1" y="42.9" font-size="11.9">|</text>
<text transform="translate(15.3,58.3) rotate(-90)" font-size="11.6">dN/dN</text>
<text transform="translate(19.4,25.2) rotate(-90)" font-size="9.6" textLength="6.6" lengthAdjust="spacingAndGlyphs">ch</text>
<text transform="translate(17.8,426.3) rotate(-90)" font-size="9.1" textLength="58.6" lengthAdjust="spacingAndGlyphs">Ratio to ALICE</text>
<text transform="translate(380.4,127.4) rotate(-90)" font-size="9.6" fill="#444" textLength="108.8" lengthAdjust="spacing">Rivet 4.1.0, &#8805; 800k events</text>
<text transform="translate(380.4,313.4) rotate(-90)" font-size="9.6" fill="#444" textLength="146" lengthAdjust="spacing">mcplots.cern.ch [arXiv:2401.10621]</text>
<text x="166.5" y="301.7" font-size="7.8" fill="#a8a8a8" textLength="82.6" lengthAdjust="spacingAndGlyphs">(ALICE_2010_I852450)</text>
<rect x="73.75" y="208.05" width="5.5" height="5.5" fill="#000"/>
<text x="94.2" y="214.1" font-size="9.35">ALICE</text>
<line x1="64" y1="223.9" x2="88.5" y2="223.9" stroke="#b5621e" stroke-width="1.2" stroke-opacity="0.7" stroke-dasharray="3,1.8"/>
<circle cx="76.5" cy="223.9" r="2.6" fill="none" stroke="#b5621e" stroke-width="1.1"/>
<text x="94.2" y="227.2" font-size="9.35">Herwig++ 2.7.1 default</text>
<line x1="64" y1="237" x2="88.5" y2="237" stroke="#43a01f" stroke-width="1.1" stroke-opacity="0.7" stroke-dasharray="2.6,2"/>
<rect x="73.85" y="234.35" width="5.3" height="5.3" fill="none" stroke="#43a01f" stroke-width="1.1"/>
<text x="94.2" y="240.3" font-size="9.35">Herwig 7.2.1 default</text>
<line x1="64" y1="250.1" x2="88.5" y2="250.1" stroke="#0000f0" stroke-width="1.1" stroke-opacity="0.7"/>
<path d="M76.5 247.5l3 4.9h-6z" fill="#0000f0"/>
<text x="94.2" y="253.4" font-size="9.35">Pythia 8.315 default</text>
<line x1="64" y1="263.2" x2="88.5" y2="263.2" stroke="#1b9ec0" stroke-width="1.2" stroke-opacity="0.7" stroke-dasharray="4,1.6,1.2,1.6"/>
<path d="M76.5 265.8l3 -4.9h-6z" fill="#1b9ec0"/>
<text x="94.2" y="266.5" font-size="9.35">Pythia 8.315 vincia-default</text>
<line x1="64" y1="276.3" x2="88.5" y2="276.3" stroke="#ff0000" stroke-width="1.0" stroke-opacity="0.7" stroke-dasharray="1,1"/>
<path d="M76.5 273.1l2.1 3.2l-2.1 3.2l-2.1 -3.2z" fill="#ff0000"/>
<text x="94.2" y="279.6" font-size="9.35">Sherpa 1.4.5 default</text>
</svg></body></html>
